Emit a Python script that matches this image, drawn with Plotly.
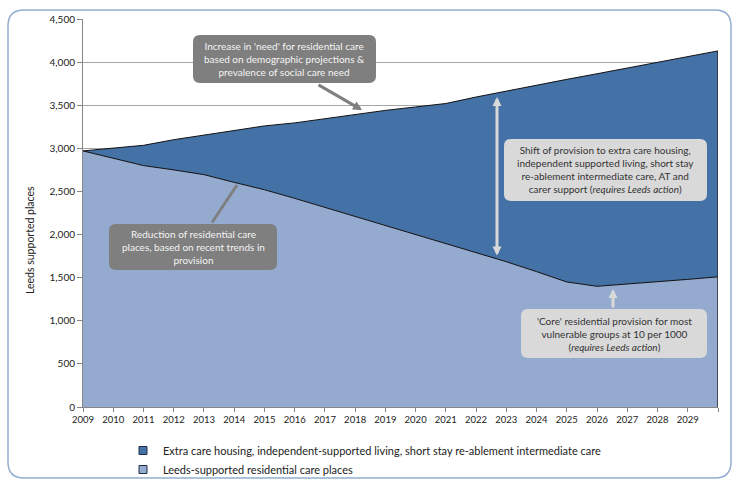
import plotly.graph_objects as go

# Leeds supported places, 2009-2030
years = list(range(2009, 2031))
total_need = [2970, 3005, 3035, 3100, 3155, 3210, 3260, 3295, 3345, 3395, 3440,
              3480, 3520, 3595, 3665, 3730, 3800, 3865, 3930, 4000, 4065, 4130]
residential = [2970, 2885, 2800, 2750, 2695, 2605, 2520, 2420, 2315, 2210, 2105,
               2000, 1895, 1790, 1685, 1570, 1450, 1400, 1425, 1455, 1480, 1510]
extra_care = [t - r for t, r in zip(total_need, residential)]

y_ticks = list(range(0, 4501, 500))
y_ticktext = [f"{v:,}" for v in y_ticks]
x_ticktext = [str(y) for y in years[:-1]] + [""]

series_names = [
    "Extra care housing, independent-supported living, short stay re-ablement intermediate care",
    "Leeds-supported residential care places",
]
dark_blue = "#4471A6"
light_blue = "#94AACF"
FONT = "Lato"

# plot-area geometry in pixels (used for boxes drawn in paper space)
W_FIG, H_FIG = 734, 479
L, R, T, B = 83, 718, 19, 407
PW, PH = R - L, B - T


def px(xp):
    return (xp - L) / PW


def py(yp):
    return (B - yp) / PH


def xd(xp):
    return years[0] + (xp - L) / PW * (years[-1] - years[0])


def yd(yp):
    return (B - yp) / PH * 4500


def rrect(x0, y0, x1, y1, r):
    pts = [("M", x0 + r, y0), ("L", x1 - r, y0), ("Q", x1, y0, x1, y0 + r),
           ("L", x1, y1 - r), ("Q", x1, y1, x1 - r, y1), ("L", x0 + r, y1),
           ("Q", x0, y1, x0, y1 - r), ("L", x0, y0 + r), ("Q", x0, y0, x0 + r, y0)]
    out = []
    for p in pts:
        cmd, coords = p[0], p[1:]
        s = cmd
        for i in range(0, len(coords), 2):
            s += f" {px(coords[i]):.5f},{py(coords[i + 1]):.5f}"
        out.append(s)
    return " ".join(out) + " Z"


fig = go.Figure()

fig.add_trace(go.Scatter(
    x=years, y=residential, stackgroup="one", mode="lines",
    line=dict(color="#111111", width=1), fillcolor=light_blue,
    name=series_names[1], showlegend=False, hoverinfo="skip"))
fig.add_trace(go.Scatter(
    x=years, y=extra_care, stackgroup="one", mode="lines",
    line=dict(color="#111111", width=1), fillcolor=dark_blue,
    name=series_names[0], showlegend=False, hoverinfo="skip"))

# legend entries with square swatches
for name, col in zip(series_names, [dark_blue, light_blue]):
    fig.add_trace(go.Scatter(
        x=[None], y=[None], mode="markers", name=name,
        marker=dict(symbol="square", size=8, color=col,
                    line=dict(color="#1f2f4a", width=1))))

shapes = [
    # outer rounded frame
    dict(type="path", xref="paper", yref="paper", layer="below",
         path=rrect(8, 10, 731, 478, 16),
         line=dict(color="#93AECF", width=1.5)),
    # right edge of the stacked area
    dict(type="line", xref="x", yref="y", x0=years[-1], x1=years[-1],
         y0=0, y1=total_need[-1], line=dict(color="#2a2a2a", width=1.5)),
]

boxes = [
    (193, 35, 376, 83, "#7F7F7F"),
    (109, 224, 277, 270, "#7F7F7F"),
    (504, 139, 707, 201, "#D9D9D9"),
    (521, 309, 707, 358, "#D9D9D9"),
]
for x0, y0, x1, y1, col in boxes:
    shapes.append(dict(type="path", xref="paper", yref="paper", layer="above",
                       path=rrect(x0, y0, x1, y1, 7),
                       fillcolor=col, line=dict(width=0)))

texts = [
    ("Increase in 'need' for residential care<br>based on demographic projections &"
     "<br>prevalence of social care need", boxes[0], "#F4F4F4"),
    ("Reduction of residential care<br>places, based on recent trends in<br>provision",
     boxes[1], "#F4F4F4"),
    ("Shift of provision to extra care housing,<br>independent supported living, short stay"
     "<br>re-ablement intermediate care, AT and<br>carer support (<i>requires Leeds action</i>)",
     boxes[2], "#333333"),
    ("'Core' residential provision for most<br>vulnerable groups at 10 per 1000"
     "<br>(<i>requires Leeds action</i>)", boxes[3], "#333333"),
]

annotations = []
for txt, (x0, y0, x1, y1, _), tcol in texts:
    annotations.append(dict(
        text=txt, xref="paper", yref="paper",
        x=px((x0 + x1) / 2), y=py((y0 + y1) / 2),
        xanchor="center", yanchor="middle", showarrow=False, align="center",
        font=dict(family=FONT, size=10, color=tcol)))

arrow_common = dict(xref="x", yref="y", axref="x", ayref="y", text="",
                    showarrow=True, arrowhead=2, arrowsize=0.6, arrowwidth=3)
# need connector
annotations.append(dict(arrow_common, x=xd(362), y=yd(110), ax=xd(317), ay=yd(84),
                        arrowcolor="#7F7F7F"))
# reduction connector
annotations.append(dict(arrow_common, x=xd(237), y=yd(185), ax=xd(211), ay=yd(224),
                        arrowcolor="#7F7F7F", arrowhead=0))
# shift double arrow
annotations.append(dict(arrow_common, x=xd(497), y=yd(97), ax=xd(497), ay=yd(257),
                        arrowcolor="#D9D9D9", arrowside="end+start",
                        startarrowhead=2, startarrowsize=0.6))
# core connector
annotations.append(dict(arrow_common, x=xd(613), y=yd(289), ax=xd(613), ay=yd(309),
                        arrowcolor="#D9D9D9"))

# y-axis title
annotations.append(dict(text="Leeds supported places", xref="paper", yref="paper",
                        x=px(30), y=py(240), textangle=-90, showarrow=False,
                        xanchor="center", yanchor="middle",
                        font=dict(family=FONT, size=10.5, color="#222222")))

fig.update_layout(
    width=W_FIG, height=H_FIG,
    margin=dict(l=L, r=W_FIG - R, t=T, b=H_FIG - B, autoexpand=False),
    paper_bgcolor="white", plot_bgcolor="white",
    font=dict(family=FONT, size=10, color="#222222"),
    shapes=shapes, annotations=annotations,
    showlegend=True,
    legend=dict(x=px(123), y=py(436), xanchor="left", yanchor="top",
                orientation="v", traceorder="normal",
                font=dict(family=FONT, size=11, color="#222222"),
                itemwidth=30, tracegroupgap=0, bgcolor="rgba(0,0,0,0)"),
    xaxis=dict(range=[years[0], years[-1]], tickvals=years, ticktext=x_ticktext,
               showgrid=False, zeroline=False, showline=True, linecolor="#868686",
               linewidth=1, ticks="outside", ticklen=4, tickcolor="#868686",
               tickfont=dict(family=FONT, size=9.5, color="#222222")),
    yaxis=dict(range=[0, 4500], tickvals=y_ticks, ticktext=y_ticktext,
               showgrid=True, gridcolor="#A6A6A6", gridwidth=1, zeroline=False,
               showline=True, linecolor="#868686", linewidth=1,
               ticks="outside", ticklen=5, tickcolor="#868686",
               tickfont=dict(family=FONT, size=10, color="#222222")),
)

fig.write_html("out.html")
